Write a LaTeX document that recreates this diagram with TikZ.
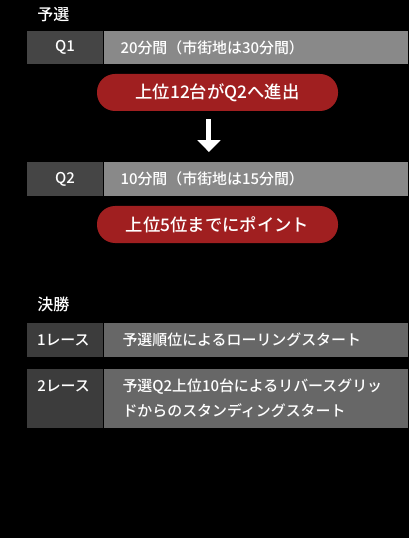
\documentclass[tikz,border=0pt]{standalone}
\usepackage{fontspec}
\setmainfont{Noto Sans CJK JP}[UprightFont=* Medium]
\usetikzlibrary{arrows.meta, positioning}
\definecolor{qdark}{HTML}{454545}
\definecolor{qlight}{HTML}{898989}
\definecolor{fdark}{HTML}{3C3C3C}
\definecolor{flight}{HTML}{676767}
\definecolor{pillred}{HTML}{A01F20}
\newcommand{\rowfont}{\fontsize{11.2pt}{18.75pt}\selectfont}

\begin{document}
\begin{tikzpicture}[
  x=0.75pt, y=-0.75pt,
  head/.style={anchor=west, text=white, inner sep=0pt,
               font=\fontsize{12pt}{14pt}\selectfont},
  qlab/.style={fill=qdark, text=white, minimum width=57pt, minimum height=25pt,
               inner sep=0pt, font=\rowfont},
  qbody/.style={fill=qlight, text=white, anchor=west, minimum height=25pt,
                text width=202.5pt, inner xsep=12.75pt, inner ysep=0pt,
                align=left, font=\rowfont},
  flab/.style={fill=fdark, text=white, minimum width=57pt, minimum height=25.5pt,
               text width=42pt, inner xsep=7.5pt, inner ysep=0pt,
               align=left, font=\rowfont},
  fbody/.style={fill=flight, text=white, anchor=west, minimum height=25.5pt,
                text width=199.5pt, inner xsep=14.25pt, inner ysep=0pt,
                align=left, font=\rowfont},
  pill/.style={fill=pillred, text=white, rounded corners=13.5pt,
               minimum width=180.75pt, minimum height=27.75pt, inner sep=0pt,
               font=\fontsize{13pt}{16pt}\selectfont},
  adv/.style={draw=white, line width=3.75pt, shorten <=6pt, shorten >=7.5pt,
              -{Triangle[width=17pt, length=9pt]}},
]
  % Background
  \fill[black] (0,0) rectangle (409,538);
  \useasboundingbox (0,0) rectangle (409,538);

  % Qualifying
  \node[head] (qhead) at (37,15) {予選};
  \node[qlab] (q1lab) at (65,47.5) {Q1};
  \node[qbody] (q1body) at (q1lab.east) {20分間（市街地は30分間）};
  \node[pill] (q1adv) at (217.5,92.5) {上位12台がQ2へ進出};
  \node[qlab] (q2lab) at (65,179) {Q2};
  \node[qbody] (q2body) at (q2lab.east) {10分間（市街地は15分間）};
  \node[pill] (q2pts) at (217.5,224.5) {上位5位までにポイント};

  % Edges
  \draw[adv] ([xshift=-6.4pt]q1adv.south) -- ([xshift=-6.4pt]q1adv.south |- q2lab.north);

  % Finals
  \node[head] (fhead) at (37,304) {決勝};
  \node[flab] (f1lab) at (65,340) {1レース};
  \node[fbody] (f1body) at (f1lab.east) {予選順位によるローリングスタート};
  \node[flab, minimum height=44.25pt] (f2lab) at (65,398.5) {};
  \node[fbody, minimum height=44.25pt] (f2body) at (f2lab.east)
    {予選Q2上位10台によるリバースグリッ\\ドからのスタンディングスタート};
  \node[anchor=west, text=white, inner sep=0pt, font=\rowfont] (f2name) at (37,386) {2レース};
\end{tikzpicture}
\end{document}
